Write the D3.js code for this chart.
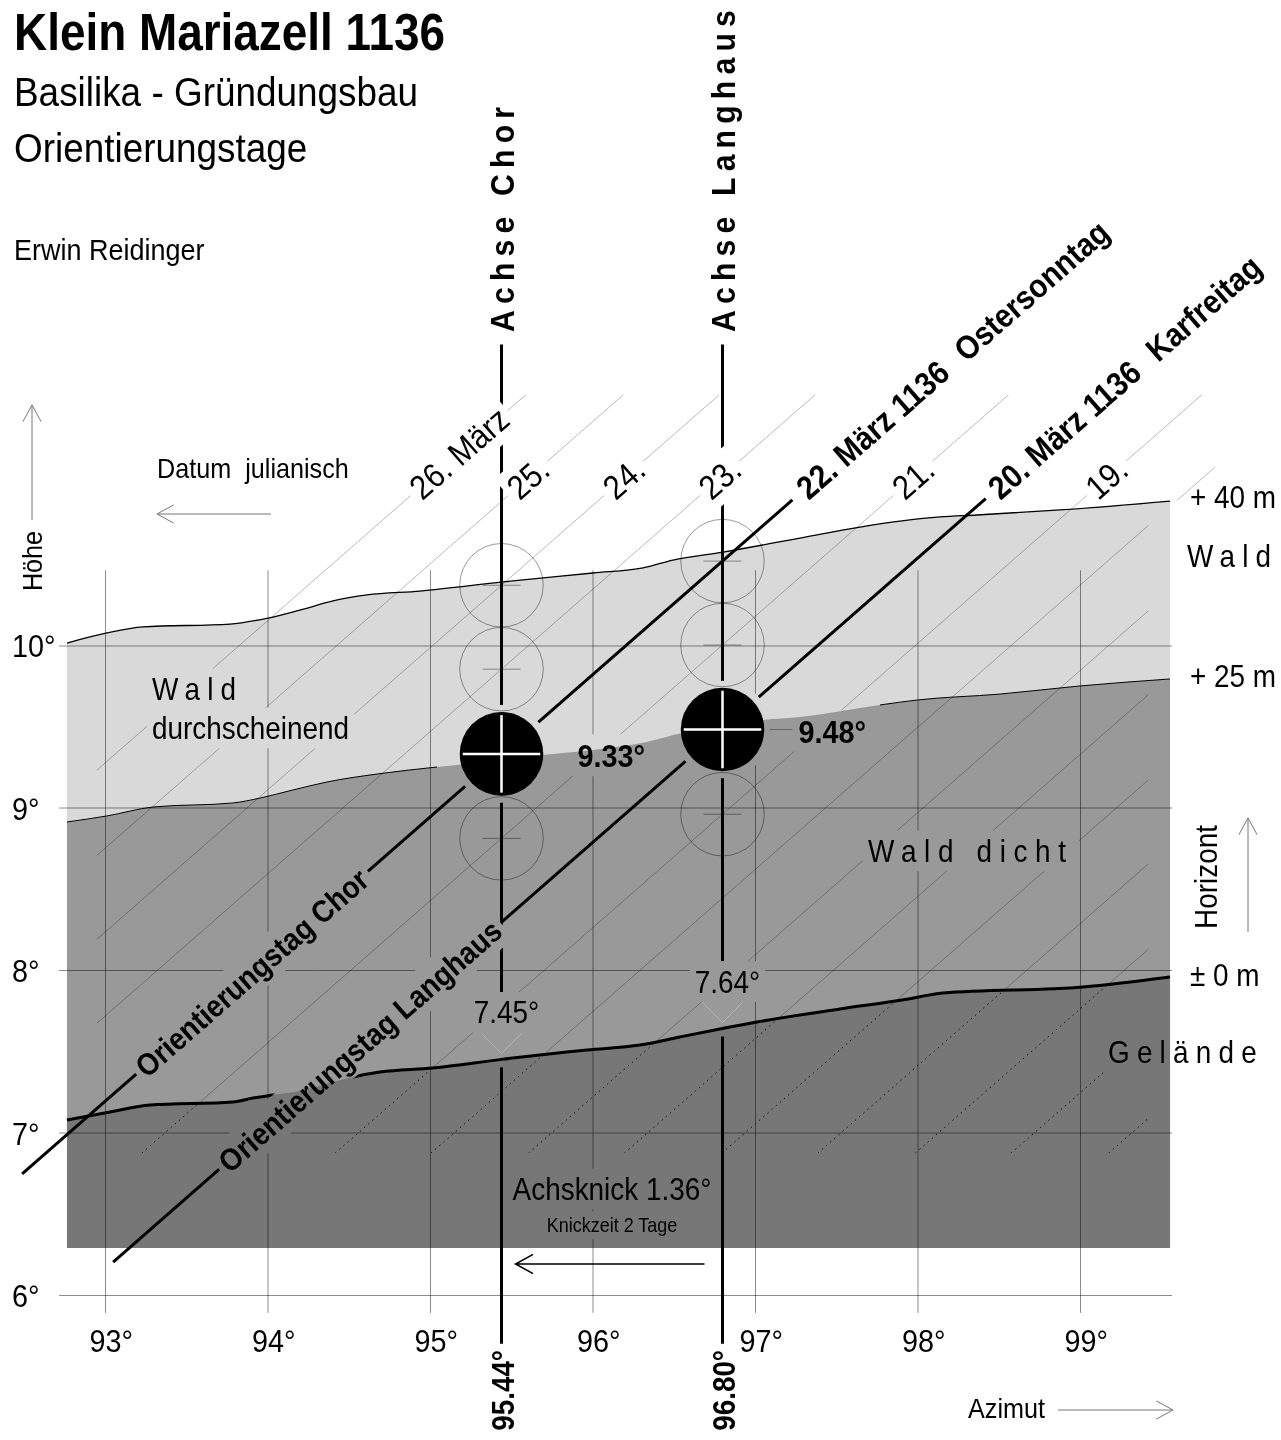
<!DOCTYPE html>
<html>
<head>
<meta charset="utf-8">
<title>Klein Mariazell 1136</title>
<script src="https://cdn.jsdelivr.net/npm/d3@7/dist/d3.min.js"></script>
<style>
  body { margin: 0; background: #fff; }
  text { font-family: "Liberation Sans", Arial, Helvetica, sans-serif; fill: #000; }
</style>
</head>
<body>
<svg id="chart" width="1281" height="1440"></svg>
<script>
// grid
const azTicks = [93, 94, 95, 96, 97, 98, 99]
const altTicks = [6, 7, 8, 9, 10]

// horizon profiles [azimut, höhe]
const wald40 = [
  [92.766, 10.012], [93.012, 10.074], [93.234, 10.111], [93.769, 10.129], [94.003, 10.166],
  [94.2, 10.215], [94.403, 10.271], [94.612, 10.308], [94.938, 10.332], [95.449, 10.388],
  [96.003, 10.443], [96.311, 10.474], [96.495, 10.523], [96.803, 10.572], [97.277, 10.658],
  [97.646, 10.726], [98.138, 10.788], [98.366, 10.8], [98.877, 10.831], [99.554, 10.886]
]
const wald25 = [
  [92.766, 8.911], [93.012, 8.948], [93.295, 9.003], [93.788, 9.028], [93.954, 9.058],
  [94.157, 9.108], [94.366, 9.157], [94.674, 9.206], [95.043, 9.249], [95.44, 9.29],
  [95.695, 9.323], [96.003, 9.354], [96.335, 9.403], [96.551, 9.458], [96.80, 9.49],
  [97.049, 9.538], [97.277, 9.557], [97.769, 9.631], [98.003, 9.662], [98.508, 9.698],
  [99.0, 9.748], [99.554, 9.791]
]
const gelaende = [
  [92.766, 7.077], [93.031, 7.126], [93.277, 7.169], [93.788, 7.188], [93.911, 7.212],
  [94.034, 7.231], [94.2, 7.255], [94.403, 7.311], [94.526, 7.342], [94.692, 7.372],
  [95.018, 7.397], [95.44, 7.45], [95.966, 7.508], [96.292, 7.538], [96.538, 7.588],
  [96.80, 7.64], [97.012, 7.68], [97.523, 7.76], [97.905, 7.815], [98.157, 7.858],
  [99.018, 7.895], [99.554, 7.957]
]

// sun paths (März 1136): azimut where the path crosses 10°
const days = [26, 25, 24, 23, 22, 21, 20, 19, 18, 17, 16, 15, 14, 13, 12, 11]
const dayAz10 = [93.83, 94.43, 95.02, 95.61, 96.21, 96.80, 97.39, 97.99, 98.58, 99.18, 99.77, 100.37, 100.96, 101.56, 102.15, 102.75]
const pathSlope = 0.875
const dayLabels = [[26, '26. März'], [25, '25.'], [24, '24.'], [23, '23.'], [21, '21.'], [19, '19.']]

// church axes
const axisNames = ['Chor', 'Langhaus']
const axisAz = [95.44, 96.80]
const sunAlt = [9.33, 9.48]
const groundAlt = [7.45, 7.64]
const orientDays = [22, 20]
const orientNotes = ['Ostersonntag', 'Karfreitag']
const orientFrom = [92.49, 93.05]
const orientTo = [97.23, 98.42]
const orientLabelAz = [93.215, 93.726]
const ghostDays = [[24, 23, 21], [22, 21, 19]]
const sunRadius = 0.257

const svg = d3.select('#chart')
const x = d3.scaleLinear().domain([93, 99]).range([105, 1080])
const y = d3.scaleLinear().domain([6, 10]).range([1295, 645])
const di = d => days.indexOf(d)
const azOf = (d, alt) => dayAz10[di(d)] + (alt - 10) / pathSlope
const altOf = (d, az) => 10 + pathSlope * (az - dayAz10[di(d)])
const angle = -Math.atan(pathSlope) * 180 / Math.PI
const sunR = x(93 + sunRadius) - x(93)
const SX = 0.9
const wipes = []
const extraAxisWipes = []

const defs = svg.append('defs')
const gFill = svg.append('g')
const gGrid = svg.append('g').attr('mask', 'url(#wipe)')
const gDays = svg.append('g').attr('clip-path', 'url(#clipDays)')
const gEdges = svg.append('g')
const gGhost = svg.append('g')
const gBold = svg.append('g').attr('mask', 'url(#wipe)')
const gAxis = svg.append('g').attr('mask', 'url(#wipeAxis)')
const gSun = svg.append('g')
const gText = svg.append('g')

function label(parent, px, py, str, o = {}) {
  const sx = o.sx || SX
  const g = parent.append('g').attr('transform', `translate(${px},${py}) rotate(${o.rotate || 0})`)
  const t = g.append('text')
    .attr('transform', `scale(${sx},1)`)
    .attr('font-size', o.size || 31)
    .attr('font-weight', o.bold ? 'bold' : 'normal')
    .attr('text-anchor', o.anchor || 'start')
    .attr('dy', o.dy || 0)
    .attr('letter-spacing', o.spacing || null)
    .text(str)
  if (o.wipe) wipes.push({ tr: g.attr('transform'), node: t.node(), sx, pad: o.pad ?? 5 })
  return t
}

function arrow(x1, y1, x2, y2, o = {}) {
  const a = Math.atan2(y2 - y1, x2 - x1), L = o.head || 19, s = 0.5
  const p = d3.path()
  p.moveTo(x1, y1); p.lineTo(x2, y2)
  p.moveTo(x2 - L * Math.cos(a - s), y2 - L * Math.sin(a - s))
  p.lineTo(x2, y2)
  p.lineTo(x2 - L * Math.cos(a + s), y2 - L * Math.sin(a + s))
  svg.append('path').attr('d', p.toString()).attr('fill', 'none')
    .attr('stroke', o.color || '#777').attr('stroke-width', o.width || 1)
}

// ---- fills
const baseAlt = 6.29
const area = d3.area().curve(d3.curveMonotoneX).x(d => x(d[0])).y0(y(baseAlt)).y1(d => y(d[1]))
gFill.append('path').datum(wald40).attr('d', area).attr('fill', '#d9d9d9')
gFill.append('path').datum(wald25).attr('d', area).attr('fill', '#999999')
gFill.append('path').datum(gelaende).attr('d', area).attr('fill', '#777777')

// ---- grid via axes
const gridTop = 10.46, gridBottom = 5.89, gridLeft = 92.717, gridRight = 99.566
const xAxis = d3.axisBottom(x).tickValues(azTicks).tickSize(-(y(gridBottom) - y(gridTop)))
  .tickPadding(16).tickFormat(d => d + '°')
const gx = gGrid.append('g').attr('transform', `translate(0,${y(gridBottom)})`).call(xAxis)
  .attr('font-size', null).attr('font-family', null)
gx.select('.domain').remove()
gx.selectAll('line').attr('stroke', '#000').attr('stroke-opacity', 0.45)
gx.selectAll('text').attr('font-size', 32).attr('text-anchor', 'start')
  .attr('x', -17.8).attr('transform', `scale(${SX},1)`)

const yAxis = d3.axisLeft(y).tickValues(altTicks).tickSize(x(gridRight) - x(gridLeft))
  .tickFormat(d => d + '°')
const gy = gGrid.append('g').attr('transform', `translate(${x(gridRight)},0)`).call(yAxis)
  .attr('font-size', null).attr('font-family', null)
gy.select('.domain').remove()
gy.selectAll('line').attr('stroke', '#000').attr('stroke-opacity', 0.45)
gy.selectAll('text').attr('font-size', 32).attr('text-anchor', 'start').attr('x', 0)
  .attr('dy', '0.37em').attr('transform', `translate(${12 - x(gridRight)},0) scale(${SX},1)`)

// ---- clip paths for the daily sun paths
const line = d3.line().x(d => x(d[0])).y(d => y(d[1]))
const curve = d3.line().curve(d3.curveMonotoneX).x(d => x(d[0])).y(d => y(d[1]))
defs.append('clipPath').attr('id', 'clipDays').append('path')
  .attr('d', `M${x(92.95)},${y(11.54)}H${x(99.83)}V${y(10.89)}H${x(99.42)}V${y(6.874)}H${x(92.95)}Z`)
const gp = curve(gelaende)
const g0 = gelaende[0], g1 = gelaende[gelaende.length - 1]
defs.append('clipPath').attr('id', 'aboveGround').append('path')
  .attr('d', `${gp}L1281,${y(g1[1])}L1281,0L0,0L0,${y(g0[1])}Z`)
defs.append('clipPath').attr('id', 'belowGround').append('path')
  .attr('d', `${gp}L${x(g1[0])},1440L${x(g0[0])},1440Z`)

const thinDays = days.filter(d => !orientDays.includes(d))
const seg = d => [[azOf(d, 4.8), 4.8], [azOf(d, 12.4), 12.4]]
const gMaskDays = gDays.append('g').attr('mask', 'url(#wipe)')
gMaskDays.append('g').attr('clip-path', 'url(#aboveGround)')
  .selectAll('path').data(thinDays).join('path')
  .attr('d', d => line(seg(d))).attr('stroke', '#000').attr('stroke-opacity', 0.35)
  .attr('stroke-width', 0.8).attr('fill', 'none')
gMaskDays.append('g').attr('clip-path', 'url(#belowGround)')
  .selectAll('path').data(thinDays).join('path')
  .attr('d', d => line(seg(d))).attr('stroke', '#111')
  .attr('stroke-width', 1).attr('stroke-dasharray', '1.5,4').attr('fill', 'none')

// ---- horizon edges
gEdges.append('path').datum(wald40).attr('d', curve).attr('fill', 'none')
  .attr('stroke', '#000').attr('stroke-width', 1.3)
gEdges.append('path').datum(wald25.filter(d => d[0] <= 95.05)).attr('d', curve).attr('fill', 'none')
  .attr('stroke', '#000').attr('stroke-width', 1)
gEdges.append('path').datum(wald25.filter(d => d[0] >= 97.7)).attr('d', curve).attr('fill', 'none')
  .attr('stroke', '#000').attr('stroke-width', 1)
gEdges.append('path').datum(gelaende).attr('d', curve).attr('fill', 'none')
  .attr('stroke', '#000').attr('stroke-width', 3).attr('mask', 'url(#wipe)')

// ---- ghost suns on neighbouring days
axisAz.forEach((az, i) => {
  ghostDays[i].forEach(d => {
    const cx = x(az), cy = y(altOf(d, az))
    gGhost.append('circle').attr('cx', cx).attr('cy', cy).attr('r', sunR)
      .attr('fill', 'none').attr('stroke', '#000').attr('stroke-opacity', 0.4).attr('stroke-width', 1)
    gGhost.append('line').attr('x1', cx - 19).attr('x2', cx + 19).attr('y1', cy).attr('y2', cy)
      .attr('stroke', '#000').attr('stroke-opacity', 0.4).attr('stroke-width', 1)
  })
})

// ---- orientation days (bold sun paths)
orientDays.forEach((d, i) => {
  gBold.append('path').attr('d', line([[orientFrom[i], altOf(d, orientFrom[i])], [orientTo[i], altOf(d, orientTo[i])]]))
    .attr('stroke', '#000').attr('stroke-width', 3).attr('fill', 'none')
})

// ---- church axes
axisAz.forEach((az, i) => {
  gAxis.append('line').attr('x1', x(az)).attr('x2', x(az)).attr('y1', y(11.85)).attr('y2', y(5.7))
    .attr('stroke', '#000').attr('stroke-width', 3)
})

// ---- suns
axisAz.forEach((az, i) => {
  const cx = x(az), cy = y(sunAlt[i])
  gSun.append('circle').attr('cx', cx).attr('cy', cy).attr('r', sunR).attr('fill', '#000')
  gSun.append('line').attr('x1', cx - sunR + 3).attr('x2', cx + sunR - 3).attr('y1', cy).attr('y2', cy)
    .attr('stroke', '#fff').attr('stroke-width', 2.5)
  gSun.append('line').attr('x1', cx).attr('x2', cx).attr('y1', cy - sunR + 3).attr('y2', cy + sunR - 3)
    .attr('stroke', '#fff').attr('stroke-width', 2.5)
})

// ---- labels along sun paths
const labelAlt = 10.94
dayLabels.forEach(([d, txt]) => {
  const az = azOf(d, labelAlt)
  label(gText, x(az), y(labelAlt), txt, { rotate: angle, size: 34, dy: '0.35em', wipe: true })
})
orientDays.forEach((d, i) => {
  const az = azOf(d, labelAlt)
  const t = label(gText, x(az), y(labelAlt), `${d}. März 1136`, { rotate: angle, size: 33, bold: true, dy: '0.35em', wipe: true })
  t.append('tspan').attr('dx', 22).text(orientNotes[i])
  label(gText, x(orientLabelAz[i]), y(altOf(d, orientLabelAz[i])), `Orientierungstag ${axisNames[i]}`,
    { rotate: angle, size: 31, bold: true, dy: '0.35em', wipe: true })
})

// ---- axis labels
axisAz.forEach((az, i) => {
  label(gText, x(az) + 12, 332, `Achse ${axisNames[i]}`, { rotate: -90, size: 34, bold: true, spacing: 6.9, sx: 0.89 })
  label(gText, x(az) + 12, 1350, az.toFixed(2) + '°', { rotate: -90, size: 32, bold: true, anchor: 'end', sx: 0.87 })
  label(gText, x(az) + 76, y(sunAlt[i]) + 13, sunAlt[i].toFixed(2) + '°', { size: 32, bold: true, wipe: true })
  const gy0 = y(groundAlt[i])
  label(gText, x(az) + 5, gy0 - 36, groundAlt[i].toFixed(2) + '°', { size: 31, anchor: 'middle', wipe: true })
  gText.append('path').attr('d', `M${x(az) - 20},${gy0 - 26}L${x(az)},${gy0 - 6}L${x(az) + 20},${gy0 - 26}`)
    .attr('fill', 'none').attr('stroke', '#b3b3b3').attr('stroke-width', 1)
  extraAxisWipes.push([x(az) - 22, gy0 - 64, 44, 72])
})
gText.append('line').attr('x1', x(axisAz[1]) + 47).attr('x2', x(axisAz[1]) + 70)
  .attr('y1', y(sunAlt[1])).attr('y2', y(sunAlt[1])).attr('stroke', '#666').attr('stroke-width', 1)

const midAxis = (x(axisAz[0]) + x(axisAz[1])) / 2
label(gText, midAxis, 1200, `Achsknick ${(axisAz[1] - axisAz[0]).toFixed(2)}°`, { size: 31, anchor: 'middle', wipe: true })
label(gText, midAxis, 1232, `Knickzeit ${orientDays[0] - orientDays[1]} Tage`, { size: 20, anchor: 'middle', wipe: true })
arrow(x(axisAz[1]) - 18, 1264, x(axisAz[0]) + 14, 1264, { color: '#000', width: 1.5, head: 20 })

// ---- region labels
label(gText, 152, 700, 'Wald', { size: 31, spacing: 8, wipe: true })
label(gText, 152, 739, 'durchscheinend', { size: 31, wipe: true })
label(gText, 868, 862, 'Wald dicht', { size: 31, spacing: 8.5, wipe: true })
label(gText, 1108, 1063, 'Gelände', { size: 31, spacing: 8, wipe: true })
label(gText, 1190, 508, '+ 40 m', { size: 31 })
label(gText, 1187, 567, 'Wald', { size: 31, spacing: 8 })
label(gText, 1190, 687, '+ 25 m', { size: 31 })
label(gText, 1190, 986, '± 0 m', { size: 31 })
label(gText, 1217, 877, 'Horizont', { size: 31, rotate: -90, anchor: 'middle' })
arrow(1248, 932, 1248, 818)
label(gText, 42, 561, 'Höhe', { size: 28, rotate: -90, anchor: 'middle' })
arrow(32, 520, 32, 405)
label(gText, 157, 478, 'Datum\u00a0\u00a0julianisch', { size: 28 })
arrow(271, 514, 157, 514)
label(gText, 968, 1418, 'Azimut', { size: 28 })
arrow(1058, 1410, 1173, 1410)

// ---- title
label(gText, 14, 50, 'Klein Mariazell 1136', { size: 51, bold: true })
label(gText, 14, 106, 'Basilika - Gründungsbau', { size: 41 })
label(gText, 14, 162, 'Orientierungstage', { size: 41 })
label(gText, 14, 260, 'Erwin Reidinger', { size: 30 })

// ---- wipe-out masks (lines stop at texts and suns)
function makeMask(id, extra) {
  const m = defs.append('mask').attr('id', id).attr('maskUnits', 'userSpaceOnUse')
    .attr('x', 0).attr('y', 0).attr('width', 1281).attr('height', 1440)
  m.append('rect').attr('width', 1281).attr('height', 1440).attr('fill', '#fff')
  wipes.forEach(w => {
    const bb = w.node.getBBox()
    m.append('rect').attr('transform', `${w.tr} scale(${w.sx},1)`)
      .attr('x', bb.x - w.pad / w.sx).attr('y', bb.y + 2 - w.pad)
      .attr('width', bb.width + 2 * w.pad / w.sx).attr('height', bb.height - 4 + 2 * w.pad)
      .attr('fill', '#000')
  })
  axisAz.forEach((az, i) => {
    m.append('circle').attr('cx', x(az)).attr('cy', y(sunAlt[i])).attr('r', sunR + 7).attr('fill', '#000')
  })
  extra.forEach(r => m.append('rect').attr('x', r[0]).attr('y', r[1]).attr('width', r[2]).attr('height', r[3]).attr('fill', '#000'))
}
makeMask('wipe', [])
makeMask('wipeAxis', extraAxisWipes)
</script>
</body>
</html>
